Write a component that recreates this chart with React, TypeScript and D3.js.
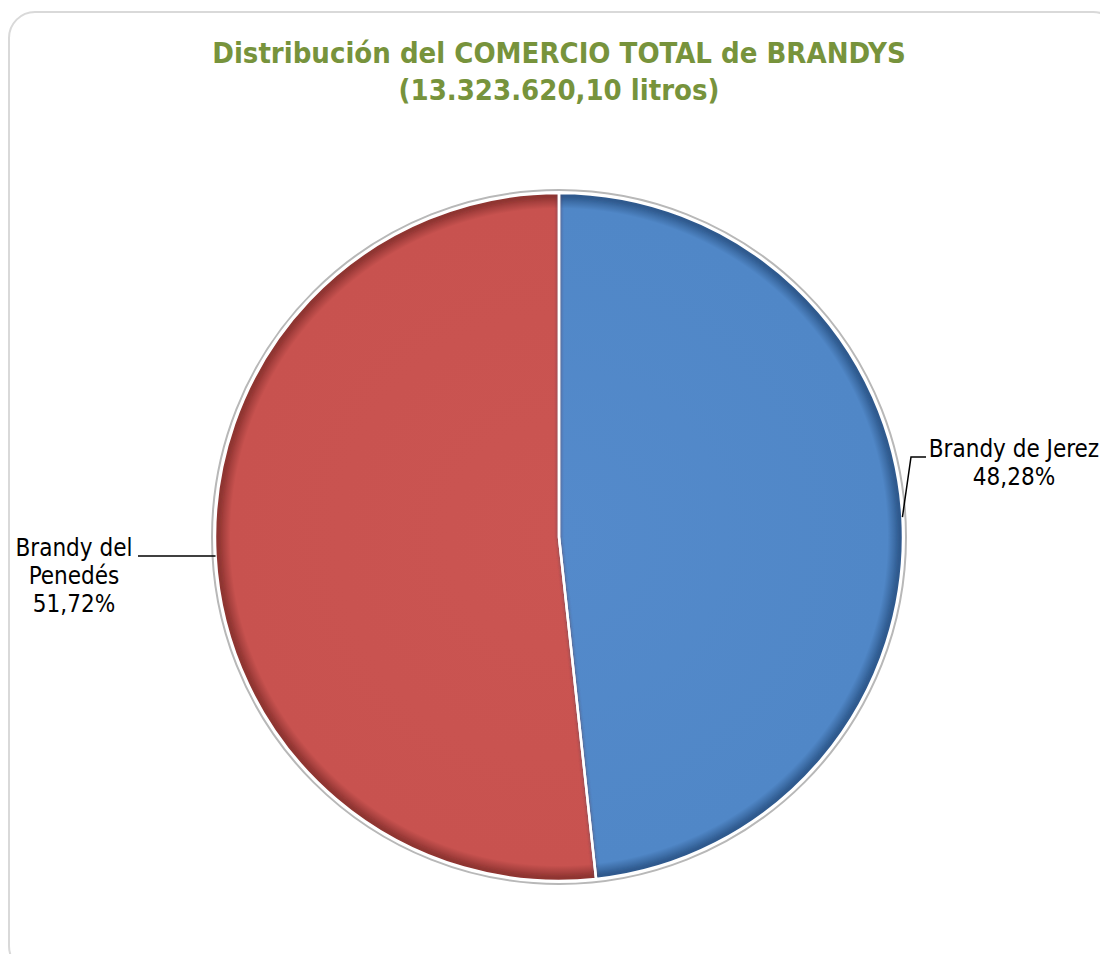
import React from "react";
import * as d3 from "d3";

const categories = ["Brandy de Jerez", "Brandy del Penedés"];
const shares = [48.28, 51.72];
const shareLabels = ["48,28%", "51,72%"];
const penedesLines = ["Brandy del", "Penedés"];
const titleLines = ["Distribución del COMERCIO TOTAL de BRANDYS", "(13.323.620,10 litros)"];

const W = 1100;
const H = 954;
const cx = 559;
const cy = 537;
const R = 344;
const colors = ["#5087C7", "#C8524F"];
const darks = ["#2f5a8e", "#8f3432"];
const lights = ["#548acb", "#cb5552"];
const FONT = "'DejaVu Sans Condensed', 'DejaVu Sans', sans-serif";

export default function App() {
  const pie = d3.pie<number>().sort(null).value((d) => d);
  const arcs = pie(shares);
  const arc = d3.arc<d3.PieArcDatum<number>>().innerRadius(0).outerRadius(R);
  const arcIn = d3.arc<d3.PieArcDatum<number>>().innerRadius(0).outerRadius(R - 3);

  const edgePt = (angle: number) => [cx + R * Math.sin(angle), cy - R * Math.cos(angle)];
  const jA = edgePt(Math.PI / 2 - 0.058);
  const pA = edgePt((3 * Math.PI) / 2 - 0.055);

  return (
    <svg width={W} height={H} style={{ display: "block", position: "absolute", left: 0, top: 0 }}>
      <defs>
        {colors.map((c, i) => (
          <radialGradient key={i} id={`g${i}`} cx={0} cy={0} r={R} gradientUnits="userSpaceOnUse">
            <stop offset="0%" stopColor={lights[i]} />
            <stop offset="95.5%" stopColor={c} />
            <stop offset="99%" stopColor={darks[i]} />
            <stop offset="100%" stopColor={darks[i]} />
          </radialGradient>
        ))}
        <filter id="innerShade" x="-10%" y="-10%" width="120%" height="120%">
          <feGaussianBlur stdDeviation="1.5" />
        </filter>
        <clipPath id="pieClip">
          <circle cx={0} cy={0} r={R} />
        </clipPath>
      </defs>
      <rect x={9} y={12} width={1110} height={960} rx={26} ry={26} fill="#fff" stroke="#d9d9d9" strokeWidth={2} />
      {titleLines.map((t, i) => (
        <text
          key={i}
          x={cx}
          y={63 + i * 37}
          textAnchor="middle"
          fill="#77933C"
          fontFamily={FONT}
          fontWeight="bold"
          fontSize={29}
        >
          {t}
        </text>
      ))}
      <circle cx={cx} cy={cy} r={R + 3} fill="none" stroke="#b8b8b8" strokeWidth={2} />
      <g transform={`translate(${cx},${cy})`}>
        {arcs.map((a, i) => (
          <path key={i} d={arc(a) || ""} fill={`url(#g${i})`} />
        ))}
        <g clipPath="url(#pieClip)">
          {arcs.map((a, i) => (
            <path
              key={"s" + i}
              d={arcIn(a) || ""}
              fill="none"
              stroke={darks[i]}
              strokeOpacity={0.4}
              strokeWidth={3.5}
              filter="url(#innerShade)"
            />
          ))}
        </g>
        {arcs.map((a, i) => (
          <path key={"w" + i} d={arc(a) || ""} fill="none" stroke="#ffffff" strokeWidth={2.5} strokeLinejoin="round" />
        ))}
      </g>
      <polyline
        points={`${jA[0]},${jA[1]} ${911},${457} ${926},${457}`}
        fill="none"
        stroke="#000"
        strokeWidth={1.5}
      />
      <polyline points={`${pA[0]},${pA[1]} ${138},${556}`} fill="none" stroke="#000" strokeWidth={1.5} />
      <text x={1014} y={457} textAnchor="middle" fontFamily={FONT} fontSize={24} fill="#000">
        {categories[0]}
      </text>
      <text x={1014} y={485} textAnchor="middle" fontFamily={FONT} fontSize={24} fill="#000">
        {shareLabels[0]}
      </text>
      {penedesLines.map((t, i) => (
        <text key={t} x={74} y={556 + i * 28} textAnchor="middle" fontFamily={FONT} fontSize={24} fill="#000">
          {t}
        </text>
      ))}
      <text x={74} y={612} textAnchor="middle" fontFamily={FONT} fontSize={24} fill="#000">
        {shareLabels[1]}
      </text>
    </svg>
  );
}
